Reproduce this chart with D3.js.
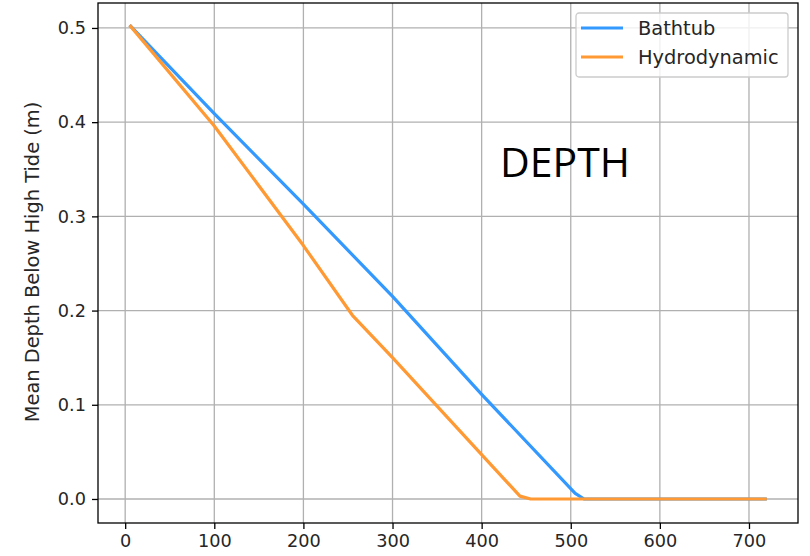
<!DOCTYPE html>
<html>
<head>
<meta charset="utf-8">
<script src="https://cdn.jsdelivr.net/npm/d3@7"></script>
<style>
  body { margin: 0; background: #fff; }
  svg { display: block; }
  text { font-family: "DejaVu Sans", sans-serif; fill: #262626; }
</style>
</head>
<body>
<div id="chart"></div>
<script>
// --- DATA ---
const bathX = [5, 100, 200, 300, 400, 505, 515, 720];
const bathY = [0.503, 0.409, 0.313, 0.215, 0.111, 0.006, 0.0, 0.0];
const hydroX = [5, 100, 200, 255, 300, 400, 443, 455, 720];
const hydroY = [0.503, 0.396, 0.269, 0.195, 0.150, 0.047, 0.003, 0.0, 0.0];
const xTicks = [0, 100, 200, 300, 400, 500, 600, 700];
const yTicks = [0.0, 0.1, 0.2, 0.3, 0.4, 0.5];
const seriesNames = ["Bathtub", "Hydrodynamic"];
const colors = ["#3399ff", "#ff9933"];

// --- SETUP ---
const width = 810, height = 556;
const margin = { left: 98, right: 12, top: 3, bottom: 33 };

const svg = d3.select("#chart").append("svg")
  .attr("width", width).attr("height", height);

const x = d3.scaleLinear().domain([-30.5, 755]).range([margin.left, width - margin.right]);
const y = d3.scaleLinear().domain([-0.0255, 0.5265]).range([height - margin.bottom, margin.top]);

// grid
const grid = svg.append("g");
grid.selectAll(".gx").data(xTicks).join("line")
  .attr("x1", d => x(d)).attr("x2", d => x(d))
  .attr("y1", y.range()[0]).attr("y2", y.range()[1])
  .attr("stroke", "#b0b0b0").attr("stroke-width", 1.3);
grid.selectAll(".gy").data(yTicks).join("line")
  .attr("y1", d => y(d)).attr("y2", d => y(d))
  .attr("x1", x.range()[0]).attr("x2", x.range()[1])
  .attr("stroke", "#b0b0b0").attr("stroke-width", 1.3);

// DEPTH annotation
svg.append("text")
  .attr("x", 500).attr("y", 177)
  .style("font-family", "'Open Sans', 'Noto Sans', sans-serif")
  .style("font-size", "41px").style("fill", "#000")
  .text("DEPTH");

// lines
const line = d3.line().x(d => x(d[0])).y(d => y(d[1]));
const series = [
  d3.zip(bathX, bathY),
  d3.zip(hydroX, hydroY)
];
svg.selectAll(".series").data(series).join("path")
  .attr("d", line)
  .attr("fill", "none")
  .attr("stroke", (d, i) => colors[i])
  .attr("stroke-width", 3.2)
  .attr("stroke-linejoin", "round");

// axes
const xAxis = svg.append("g")
  .attr("transform", `translate(0,${y.range()[0]})`)
  .call(d3.axisBottom(x).tickValues(xTicks).tickSize(6).tickPadding(5).tickFormat(d3.format("d")));
const yAxis = svg.append("g")
  .attr("transform", `translate(${x.range()[0]},0)`)
  .call(d3.axisLeft(y).tickValues(yTicks).tickSize(6).tickPadding(6).tickFormat(d3.format(".1f")));
[xAxis, yAxis].forEach(a => {
  a.selectAll("text").style("font-size", "17.7px").style("font-family", "DejaVu Sans").attr("fill", "#262626");
  a.selectAll("line").attr("stroke", "#000").attr("stroke-width", 1.3);
  a.select(".domain").remove();
});

// frame
svg.append("rect")
  .attr("x", x.range()[0]).attr("y", y.range()[1])
  .attr("width", x.range()[1] - x.range()[0])
  .attr("height", y.range()[0] - y.range()[1])
  .attr("fill", "none").attr("stroke", "#000").attr("stroke-width", 1.3);

// y label
svg.append("text")
  .attr("transform", `translate(39,${(y.range()[0] + y.range()[1]) / 2 - 1}) rotate(-90)`)
  .attr("text-anchor", "middle")
  .style("font-size", "19.4px")
  .text("Mean Depth Below High Tide (m)");

// legend
const lg = svg.append("g").attr("transform", "translate(576,13)");
lg.append("rect")
  .attr("width", 212).attr("height", 64).attr("rx", 3)
  .attr("fill", "#fff").attr("fill-opacity", 0.8)
  .attr("stroke", "#cccccc").attr("stroke-width", 1.3);
seriesNames.forEach((name, i) => {
  const gy = 15 + i * 29;
  lg.append("line").attr("x1", 5).attr("x2", 47).attr("y1", gy).attr("y2", gy)
    .attr("stroke", colors[i]).attr("stroke-width", 3.2);
  lg.append("text").attr("x", 62).attr("y", gy + 7)
    .style("font-size", "19.4px").text(name);
});
</script>
</body>
</html>
